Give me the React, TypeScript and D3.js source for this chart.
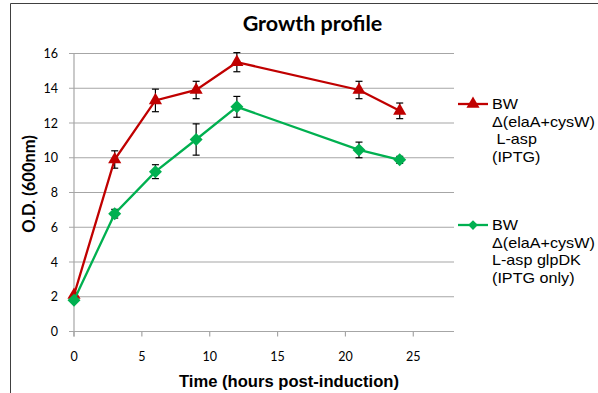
import React from "react";
import * as d3 from "d3";

const times = [0, 3, 6, 9, 12, 21, 24];
const redValues = [2.1, 9.9, 13.3, 13.9, 15.5, 13.9, 12.7];
const redErrors = [0, 0.5, 0.65, 0.5, 0.55, 0.5, 0.45];
const greenValues = [1.8, 6.78, 9.2, 11.05, 12.93, 10.45, 9.88];
const greenErrors = [0, 0.25, 0.4, 0.9, 0.6, 0.45, 0.2];
const xTicks = [0, 5, 10, 15, 20, 25];
const yTicks = [0, 2, 4, 6, 8, 10, 12, 14, 16];
const redLegend = ["BW", "Δ(elaA+cysW)", " L-asp", "(IPTG)"];
const greenLegend = ["BW", "Δ(elaA+cysW)", "L-asp glpDK", "(IPTG only)"];

const RED = "#c00000";
const GREEN = "#00b050";
const CAL = "Lato, 'Open Sans', sans-serif";
const ARIAL = "'Liberation Sans', Arial, sans-serif";

export default function App() {
  const x = d3.scaleLinear().domain([0, 28]).range([74, 454]);
  const y = d3.scaleLinear().domain([0, 16]).range([331.5, 53.5]);
  const line = d3
    .line<number>()
    .x((_, i) => x(times[i]))
    .y((d) => y(d));

  const triangle = d3.symbol().type(d3.symbolTriangle).size(75)() || "";
  const diamond = "M0,-6.5L6.5,0L0,6.5L-6.5,0Z";

  const errorBars = (vals: number[], errs: number[], key: string) =>
    vals.map((v, i) =>
      errs[i] > 0 ? (
        <g key={key + i} stroke="#000" strokeWidth={1.2}>
          <line x1={x(times[i])} x2={x(times[i])} y1={y(v + errs[i])} y2={y(v - errs[i])} />
          <line x1={x(times[i]) - 3.5} x2={x(times[i]) + 3.5} y1={y(v + errs[i])} y2={y(v + errs[i])} />
          <line x1={x(times[i]) - 3.5} x2={x(times[i]) + 3.5} y1={y(v - errs[i])} y2={y(v - errs[i])} />
        </g>
      ) : null
    );

  return (
    <svg
      width={598}
      height={393}
      style={{ position: "absolute", left: 0, top: 0, background: "#fff" }}
    >
      <rect x={0} y={0} width={598} height={393} fill="#fff" />
      <path d="M10.5,393 L10.5,3.5 L598,3.5" fill="none" stroke="#404040" strokeWidth={1} />

      <text x={312.5} y={31} textAnchor="middle" fontFamily={CAL} fontWeight="bold" fontSize={21.5} fill="#000">
        Growth profile
      </text>

      {yTicks.map((t) => (
        <line key={"g" + t} x1={69} x2={454} y1={y(t)} y2={y(t)} stroke="#a6a6a6" strokeWidth={1.2} />
      ))}
      <line x1={74} x2={74} y1={y(16)} y2={y(0) + 5} stroke="#a6a6a6" strokeWidth={1.2} />
      {xTicks.map((t) => (
        <line key={"xt" + t} x1={x(t)} x2={x(t)} y1={y(0)} y2={y(0) + 5} stroke="#a6a6a6" strokeWidth={1.2} />
      ))}
      {yTicks.map((t) => (
        <text key={"yl" + t} x={58} y={y(t) + 4.5} textAnchor="end" fontFamily={CAL} fontSize={12.5} fill="#000">
          {t}
        </text>
      ))}
      {xTicks.map((t) => (
        <text key={"xl" + t} x={x(t)} y={361} textAnchor="middle" fontFamily={CAL} fontSize={12.5} fill="#000">
          {t}
        </text>
      ))}

      <text x={289} y={386.5} textAnchor="middle" fontFamily={ARIAL} fontWeight="bold" fontSize={16.6} fill="#000">
        Time (hours post-induction)
      </text>
      <text
        transform={`translate(35,184) rotate(-90)`}
        textAnchor="middle"
        fontFamily={CAL}
        fontWeight="bold"
        fontSize={16.5}
        fill="#000"
      >
        O.D. (600nm)
      </text>

      {errorBars(redValues, redErrors, "re")}
      {errorBars(greenValues, greenErrors, "ge")}

      <path d={line(redValues) || ""} fill="none" stroke={RED} strokeWidth={2.3} />
      {redValues.map((v, i) => (
        <path key={"rm" + i} d={triangle} transform={`translate(${x(times[i])},${y(v)})`} fill={RED} />
      ))}
      <path d={line(greenValues) || ""} fill="none" stroke={GREEN} strokeWidth={2.3} />
      {greenValues.map((v, i) => (
        <path key={"gm" + i} d={diamond} transform={`translate(${x(times[i])},${y(v)})`} fill={GREEN} />
      ))}

      <line x1={458} x2={488} y1={104} y2={104} stroke={RED} strokeWidth={2.3} />
      <path d={triangle} transform="translate(473,104)" fill={RED} />
      {redLegend.map((s, i) => (
        <text
          key={"rl" + i}
          transform={`translate(492,${109 + i * 17.7}) scale(1.13,1)`}
          fontFamily={ARIAL}
          fontSize={14.3}
          fill="#000"
          xmlSpace="preserve"
        >
          {s}
        </text>
      ))}
      <line x1={458} x2={488} y1={225} y2={225} stroke={GREEN} strokeWidth={2.3} />
      <path d={diamond} transform="translate(473,225) scale(0.75)" fill={GREEN} />
      {greenLegend.map((s, i) => (
        <text
          key={"gl" + i}
          transform={`translate(492,${230 + i * 17.7}) scale(1.13,1)`}
          fontFamily={ARIAL}
          fontSize={14.3}
          fill="#000"
        >
          {s}
        </text>
      ))}
    </svg>
  );
}
